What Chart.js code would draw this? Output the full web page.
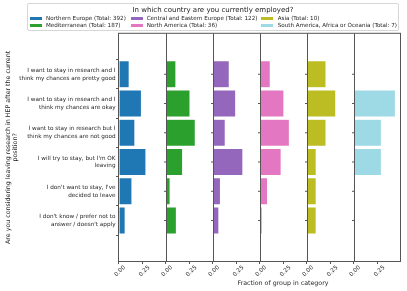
<!DOCTYPE html>
<html>
<head>
  <title>Leaving research by region</title>
  <script src="https://cdn.jsdelivr.net/npm/chart.js"></script>
  <style>
    body { margin: 0; background: #fff; font-family: "DejaVu Sans", sans-serif; }
    #wrap { position: relative; width: 407px; height: 291px; }
    #chart { position: absolute; left: 0; top: 0; }
    #legend {
      position: absolute; left: 27px; top: 3px; width: 372px; height: 28px;
      border: 1px solid #d6d6d6; border-radius: 2px; background: rgba(255,255,255,0.85);
      box-sizing: border-box; color: #222;
    }
    #legend .title { position: absolute; left: 0; right: 0; top: 1px; text-align: center; font-size: 7px; line-height: 10px; }
    #legend .item { position: absolute; font-size: 5.6px; line-height: 7px; white-space: nowrap; }
    #legend .box { position: absolute; width: 12px; height: 3.5px; }
  </style>
</head>
<body>
  <div id="wrap">
    <canvas id="chart" width="407" height="291"></canvas>
    <div id="legend"><div class="title">In which country are you currently employed?</div></div>
  </div>

  <script>
    // answer categories (top to bottom)
    const answers = [
      ['I want to stay in research and I', 'think my chances are pretty good'],
      ['I want to stay in research and I', 'think my chances are okay'],
      ['I want to stay in research but I', 'think my chances are not good'],
      ["I will try to stay, but I'm OK", 'leaving'],
      ["I don't want to stay, I've", 'decided to leave'],
      ["I don't know / prefer not to", "answer / doesn't apply"]
    ];

    const groupNames = ['Northern Europe', 'Mediterranean', 'Central and Eastern Europe', 'North America', 'Asia', 'South America, Africa or Oceania'];
    const groupTotals = [392, 187, 122, 36, 10, 7];
    const groupColors = ['#1f77b4', '#2ca02c', '#9467bd', '#e377c2', '#bcbd22', '#9edae5'];

    // fraction of each group per answer
    const northernEurope = [0.110, 0.235, 0.168, 0.281, 0.138, 0.069];
    const mediterranean  = [0.107, 0.251, 0.305, 0.176, 0.048, 0.112];
    const centralEastern = [0.172, 0.238, 0.131, 0.311, 0.082, 0.066];
    const northAmerica   = [0.111, 0.250, 0.306, 0.222, 0.083, 0.028];
    const asia           = [0.200, 0.300, 0.200, 0.100, 0.100, 0.100];
    const southAmerica   = [0.000, 0.429, 0.286, 0.286, 0.000, 0.000];
    const groupValues = [northernEurope, mediterranean, centralEastern, northAmerica, asia, southAmerica];

    const xTicks = [0, 0.25];
    const xMax = 0.48;
    const xTitle = 'Fraction of group in category';
    const xTitlePanel = 3;

    // legend (3 columns x 2 rows, column-major like matplotlib)
    const legend = document.getElementById('legend');
    const colBox = [1.7, 103, 233];
    const colText = [18, 118.7, 249.7];
    const rowY = [14.3, 21.7];
    groupNames.forEach((name, i) => {
      const col = Math.floor(i / 2), row = i % 2;
      const box = document.createElement('div');
      box.className = 'box';
      box.style.left = colBox[col] + 'px';
      box.style.top = (rowY[row] - 1.75) + 'px';
      box.style.background = groupColors[i];
      legend.appendChild(box);
      const txt = document.createElement('div');
      txt.className = 'item';
      txt.style.left = colText[col] + 'px';
      txt.style.top = (rowY[row] - 3.5) + 'px';
      txt.textContent = `${name} (Total: ${groupTotals[i]})`;
      legend.appendChild(txt);
    });

    Chart.defaults.font.family = '"DejaVu Sans", sans-serif';
    Chart.defaults.color = '#262626';

    const scales = {
      y: {
        type: 'linear',
        reverse: true,
        min: -0.75,
        max: answers.length - 0.25,
        afterBuildTicks: (s) => { s.ticks = answers.map((_, i) => ({ value: i })); },
        afterFit: (s) => { s.width = 118.5; },
        border: { display: false },
        grid: { drawOnChartArea: false, tickLength: 2.5, color: '#555' },
        ticks: {
          padding: 0.5,
          font: { size: 5.7, lineHeight: 1.36 },
          callback: (v) => answers[v]
        },
        title: {
          display: true,
          text: ['Are you considering leaving research in HEP after the current', 'position?'],
          font: { size: 6.3, lineHeight: 1.12 },
          padding: { top: 5, bottom: 0 }
        }
      }
    };

    groupNames.forEach((_, i) => {
      scales['x' + i] = {
        type: 'linear',
        position: 'bottom',
        stack: 'panels',
        stackWeight: 1,
        min: 0,
        max: xMax,
        afterBuildTicks: (s) => { s.ticks = xTicks.map(v => ({ value: v })); },
        afterFit: (s) => { s.height = 29.5; },
        border: { display: false },
        grid: { drawOnChartArea: false, tickLength: 2.5, color: '#555' },
        ticks: {
          minRotation: 45,
          maxRotation: 45,
          padding: 0,
          labelOffset: 6,
          font: { size: 5.8 },
          callback: (v) => v.toFixed(2)
        }
      };
    });

    // frame round the six panels, small y ticks on every panel, and the x title
    // (drawn here because an axis title is squeezed to its own 47px panel width)
    const framePlugin = {
      id: 'frame',
      afterDatasetsDraw(chart) {
        const { ctx, chartArea: a } = chart;
        const yScale = chart.scales.y;
        ctx.save();
        ctx.strokeStyle = '#555';
        ctx.lineWidth = 1;
        ctx.strokeRect(a.left, a.top, a.width, a.height);
        ctx.beginPath();
        groupNames.forEach((_, i) => {
          const x0 = Math.round(chart.scales['x' + i].getPixelForValue(0)) + 0.5;
          if (i > 0) {
            ctx.moveTo(x0, a.top);
            ctx.lineTo(x0, a.bottom);
            answers.forEach((_, r) => {
              const y = yScale.getPixelForValue(r);
              ctx.moveTo(x0 - 2.5, y);
              ctx.lineTo(x0, y);
            });
          }
        });
        ctx.stroke();

        const tx = chart.scales['x' + xTitlePanel];
        ctx.fillStyle = '#262626';
        ctx.font = '6.3px "DejaVu Sans", sans-serif';
        ctx.textAlign = 'center';
        ctx.textBaseline = 'middle';
        ctx.fillText(xTitle, (tx.left + tx.right) / 2, tx.bottom - 8);
        ctx.restore();
      }
    };

    new Chart(document.getElementById('chart'), {
      type: 'bar',
      data: {
        datasets: groupNames.map((name, i) => ({
          label: name,
          data: groupValues[i].map((v, r) => ({ x: v, y: r })),
          xAxisID: 'x' + i,
          yAxisID: 'y',
          grouped: false,
          backgroundColor: groupColors[i],
          borderColor: 'rgba(255,255,255,0.9)',
          borderWidth: 0.6,
          borderSkipped: false,
          barPercentage: 0.93,
          categoryPercentage: 1
        }))
      },
      options: {
        indexAxis: 'y',
        responsive: false,
        animation: false,
        layout: { padding: { top: 33.3, right: 6.5, left: 0, bottom: 0 } },
        plugins: { legend: { display: false }, tooltip: { enabled: false } },
        scales: scales
      },
      plugins: [framePlugin]
    });
  </script>
</body>
</html>
